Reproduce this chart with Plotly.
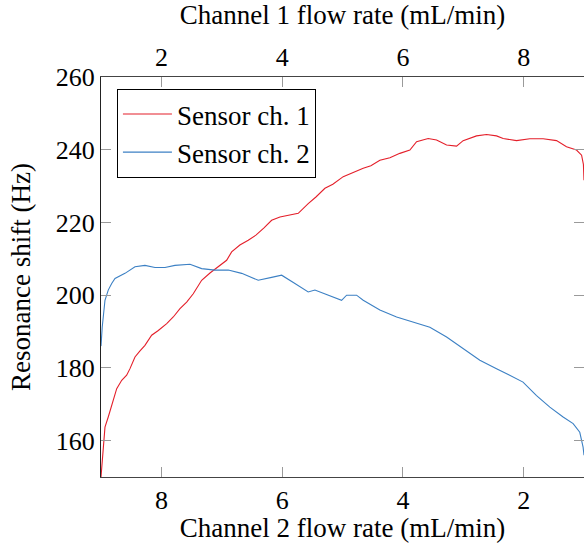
import plotly.graph_objects as go

# Channel 1 flow rate (mL/min) positions (top axis); channel 2 = 10 - channel 1
ch1_flow_red = [1.0, 1.04, 1.066, 1.12, 1.177, 1.26, 1.343, 1.425, 1.48, 1.563, 1.646, 1.728,
                1.839, 1.949, 2.088, 2.197, 2.308, 2.419, 2.528, 2.667, 2.805, 2.942, 3.081,
                3.164, 3.30, 3.439, 3.566, 3.70, 3.826, 3.964, 4.10, 4.267, 4.432, 4.56, 4.709,
                4.84, 5.012, 5.17, 5.343, 5.47, 5.619, 5.785, 5.95, 6.116, 6.227, 6.419, 6.558,
                6.724, 6.889, 6.998, 7.22, 7.386, 7.551, 7.661, 7.882, 8.103, 8.323, 8.545,
                8.71, 8.876, 8.96, 8.99, 9.0]
sensor1 = [150.0, 158.2, 163.7, 166.5, 169.7, 174.3, 176.6, 178.0, 179.8, 183.0, 184.7, 186.2,
           189.0, 190.3, 192.2, 194.0, 196.3, 198.1, 200.4, 204.1, 206.1, 207.8, 209.6,
           211.9, 213.8, 215.1, 216.5, 218.5, 220.6, 221.5, 221.9, 222.5, 225.2, 227.0, 229.4,
           230.5, 232.6, 233.8, 234.9, 235.6, 237.1, 237.8, 239.0, 239.9, 242.2, 243.1, 242.7,
           241.3, 241.0, 242.5, 243.8, 244.2, 243.8, 243.1, 242.5, 243.0, 243.0, 242.5,
           240.8, 239.9, 238.5, 236.0, 231.6]

ch1_flow_blue = [1.0, 1.02, 1.066, 1.12, 1.177, 1.232, 1.397, 1.563, 1.728, 1.894, 2.06, 2.225,
                 2.474, 2.667, 2.887, 3.108, 3.33, 3.604, 3.826, 3.992, 4.212, 4.432, 4.543,
                 4.763, 4.985, 5.068, 5.233, 5.343, 5.619, 5.896, 6.17, 6.447, 6.724, 6.998,
                 7.275, 7.551, 7.826, 7.99, 8.214, 8.434, 8.654, 8.82, 8.93, 8.985, 9.0]
sensor2 = [186.0, 191.2, 198.6, 201.4, 203.2, 204.6, 206.0, 207.8, 208.2, 207.6, 207.6, 208.2,
           208.5, 207.3, 206.9, 206.9, 206.0, 204.1, 204.9, 205.5, 203.2, 200.9, 201.4,
           200.0, 198.6, 200.0, 200.0, 198.6, 195.9, 194.0, 192.6, 191.2, 188.5, 185.3,
           182.1, 179.8, 177.5, 176.1, 172.4, 169.2, 166.5, 164.7, 162.3, 158.2, 156.0]

top_ticks = [2, 4, 6, 8]
bottom_ticks = [8, 6, 4, 2]
y_ticks = [160, 180, 200, 220, 240, 260]

FONT = "Liberation Serif"
FS_TICK = 26
FS_TEXT = 27
RED = "#e41f2a"
BLUE = "#3c80c4"
SPINE = "#444444"
TICKC = "#9a9a9a"

fig = go.Figure()
fig.add_trace(go.Scatter(x=ch1_flow_red, y=sensor1, mode="lines", name="Sensor ch. 1",
                         line=dict(color=RED, width=1.1), xaxis="x2", yaxis="y"))
fig.add_trace(go.Scatter(x=ch1_flow_blue, y=sensor2, mode="lines", name="Sensor ch. 2",
                         line=dict(color=BLUE, width=1.1), xaxis="x2", yaxis="y"))
# anchor the bottom axis (channel 2 flow)
fig.add_trace(go.Scatter(x=[], y=[], mode="lines", showlegend=False, xaxis="x", yaxis="y"))

fig.update_layout(
    width=584, height=543,
    margin=dict(l=101, r=0, t=77, b=66),
    paper_bgcolor="white", plot_bgcolor="white",
    font=dict(family=FONT, size=FS_TEXT, color="black"),
    showlegend=True,
    legend=dict(x=0.033, y=0.97, xanchor="left", yanchor="top",
                bordercolor="black", borderwidth=1, bgcolor="white",
                font=dict(family=FONT, size=FS_TEXT), tracegroupgap=0,
                itemwidth=49),
    xaxis=dict(range=[9, 1], tickvals=bottom_ticks, ticktext=[str(t) for t in bottom_ticks],
               showgrid=False, zeroline=False, showline=True, linecolor=SPINE, linewidth=1,
               ticks="inside", ticklen=10, tickcolor=TICKC, tickwidth=1,
               title=dict(text="Channel 2 flow rate (mL/min)", standoff=10,
                          font=dict(family=FONT, size=FS_TEXT)),
               tickfont=dict(family=FONT, size=FS_TICK),
               side="bottom", anchor="y", mirror=False),
    xaxis2=dict(range=[1, 9], tickvals=top_ticks, ticktext=[str(t) for t in top_ticks],
                overlaying="x", side="top", anchor="y",
                showgrid=False, zeroline=False, showline=True, linecolor=SPINE, linewidth=1,
                ticks="inside", ticklen=10, tickcolor=TICKC, tickwidth=1,
                tickfont=dict(family=FONT, size=FS_TICK),
                title=dict(text="Channel 1 flow rate (mL/min)", standoff=12,
                           font=dict(family=FONT, size=FS_TEXT))),
    yaxis=dict(range=[150, 260], tickvals=y_ticks, ticktext=[str(t) for t in y_ticks],
               showgrid=False, zeroline=False, showline=True, linecolor="#222222", linewidth=1,
               mirror="ticks", ticks="inside", ticklen=10, tickcolor=TICKC, tickwidth=1,
               tickfont=dict(family=FONT, size=FS_TICK),
               title=dict(text="Resonance shift (Hz)", standoff=17,
                          font=dict(family=FONT, size=FS_TEXT))),
)

fig.write_html("out.html")
